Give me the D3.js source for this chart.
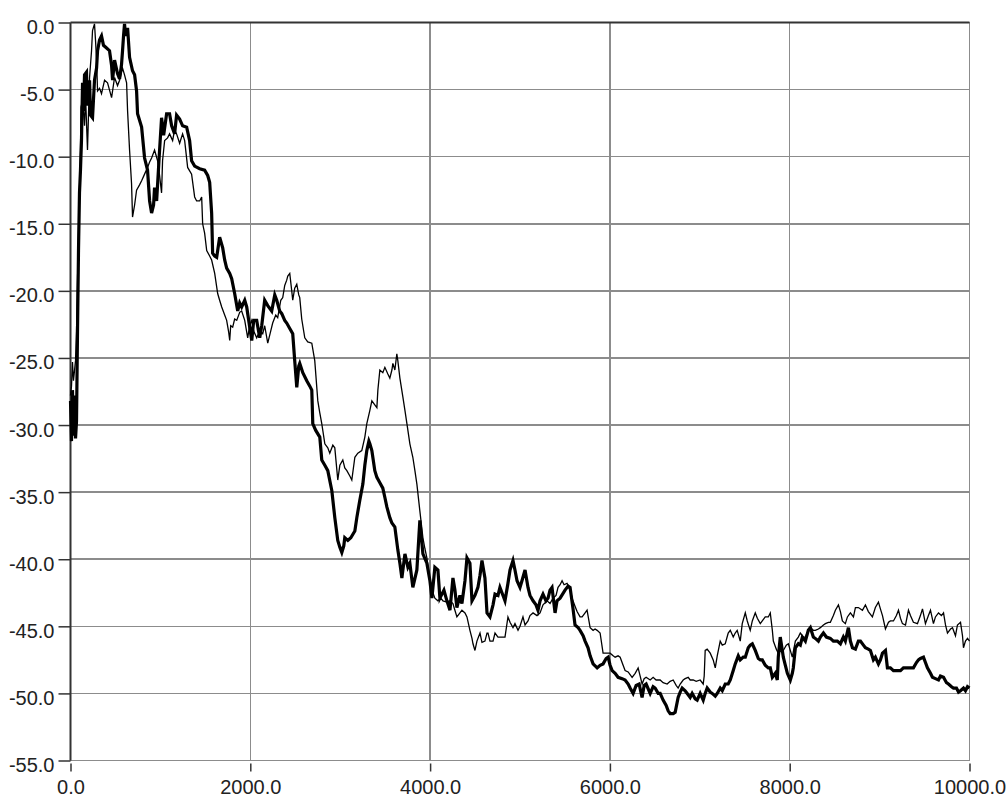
<!DOCTYPE html>
<html>
<head>
<meta charset="utf-8">
<script src="https://cdn.jsdelivr.net/npm/d3@7"></script>
<style>
  html, body { margin: 0; padding: 0; background: #ffffff; }
  svg { display: block; }
  .tick-label { font-family: "Liberation Sans", Arial, sans-serif; font-size: 20px; fill: #222; }
</style>
</head>
<body>
<svg id="chart" width="1007" height="797"></svg>
<script>
// Axis ticks
const xTicks = [0, 2000, 4000, 6000, 8000, 10000];
const yTicks = [0, -5, -10, -15, -20, -25, -30, -35, -40, -45, -50, -55];

// Heavy trace
const boldX = [0,11,22,33,45,56,67,78,89,100,111,122,134,145,156,178,189,212,223,245,267,290,301,323,345,367,401,434,457,468,490,523,546,568,579,590,601,612,635,657,690,713,735,746,791,824,857,880,902,924,935,958,991,1013,1036,1069,1102,1125,1158,1180,1214,1247,1292,1325,1347,1381,1437,1492,1526,1548,1570,1581,1604,1626,1659,1693,1715,1737,1771,1793,1826,1860,1882,1904,1938,1960,1993,2016,2038,2071,2105,2127,2160,2194,2238,2272,2294,2327,2350,2383,2405,2439,2472,2494,2517,2539,2550,2584,2628,2662,2684,2695,2728,2773,2795,2829,2862,2907,2940,2973,2996,3018,3040,3051,3085,3118,3163,3185,3218,3252,3274,3296,3319,3330,3352,3363,3385,3408,3441,3474,3497,3519,3552,3575,3608,3641,3664,3686,3720,3753,3775,3808,3853,3886,3920,3964,3998,4020,4053,4087,4109,4154,4187,4221,4254,4276,4298,4332,4354,4388,4410,4443,4466,4499,4532,4555,4577,4610,4633,4666,4700,4722,4755,4777,4811,4833,4866,4889,4922,4944,4967,5000,5022,5056,5089,5111,5145,5178,5200,5223,5256,5289,5312,5334,5356,5390,5412,5446,5501,5535,5557,5590,5612,5646,5668,5702,5724,5757,5780,5813,5858,5891,5924,5958,5980,6002,6025,6058,6091,6136,6169,6203,6225,6258,6292,6325,6358,6381,6403,6448,6481,6503,6537,6559,6592,6626,6648,6670,6704,6726,6759,6782,6804,6837,6860,6893,6915,6949,6971,7004,7038,7060,7082,7116,7138,7172,7194,7227,7250,7283,7316,7339,7372,7394,7428,7450,7483,7506,7539,7561,7584,7617,7651,7673,7695,7728,7762,7784,7807,7840,7862,7873,7895,7918,7929,7951,7974,8007,8029,8040,8063,8096,8118,8141,8174,8207,8230,8263,8285,8319,8341,8375,8408,8452,8486,8530,8564,8597,8619,8653,8675,8698,8731,8764,8787,8820,8842,8875,8898,8931,8953,8987,9009,9032,9065,9087,9120,9154,9199,9232,9265,9310,9343,9376,9410,9432,9454,9488,9510,9532,9566,9588,9621,9655,9677,9711,9744,9766,9800,9822,9855,9878,9900,9933,9955,9978,10000];
const boldY = [-28.2,-31.2,-27.4,-30.8,-27.8,-31.0,-29.7,-23.0,-17.0,-12.7,-11.0,-8.8,-4.5,-6.6,-3.9,-3.7,-6.2,-4.3,-6.9,-7.1,-4.3,-3.4,-2.1,-1.3,-1.0,-1.7,-1.9,-2.1,-3.2,-4.3,-2.8,-3.8,-4.2,-3.1,-2.1,-1.0,-0.1,-1.0,-0.4,-2.6,-3.6,-3.9,-5.1,-6.8,-7.8,-10.1,-11.0,-13.3,-14.2,-13.6,-12.3,-13.3,-9.5,-7.1,-8.4,-6.8,-6.8,-7.7,-8.3,-6.9,-7.2,-7.7,-7.8,-8.8,-10.3,-10.7,-10.9,-11.0,-11.4,-11.9,-14.2,-17.2,-17.4,-17.5,-16.0,-16.8,-17.7,-18.3,-18.7,-19.1,-20.2,-21.5,-20.9,-21.2,-20.7,-21.2,-22.7,-23.7,-22.2,-22.2,-23.5,-22.6,-20.7,-21.1,-21.5,-20.3,-20.7,-21.5,-21.7,-22.2,-22.4,-22.8,-23.2,-25.2,-27.2,-25.6,-25.4,-26.1,-26.7,-27.1,-27.4,-29.9,-30.4,-30.9,-32.6,-33.0,-33.4,-34.9,-36.9,-38.6,-39.1,-39.5,-39.0,-38.4,-38.6,-38.4,-37.9,-36.9,-35.6,-34.4,-33.0,-31.9,-31.2,-31.4,-31.9,-32.4,-33.4,-33.9,-34.3,-34.7,-35.4,-36.1,-36.9,-37.3,-37.6,-39.3,-40.3,-41.4,-39.6,-40.6,-40.3,-42.1,-40.8,-37.1,-39.6,-40.3,-41.6,-42.9,-40.6,-40.8,-42.9,-42.3,-43.1,-43.8,-41.4,-42.3,-43.6,-42.7,-43.3,-41.6,-39.9,-40.3,-43.1,-42.7,-42.1,-41.2,-40.1,-41.4,-44.0,-44.3,-43.4,-42.6,-42.7,-42.1,-42.7,-43.1,-41.8,-40.8,-40.1,-40.8,-41.6,-42.1,-41.6,-40.8,-42.1,-42.7,-43.1,-43.4,-43.8,-43.1,-42.6,-43.1,-42.9,-42.3,-42.1,-44.0,-43.1,-42.9,-42.3,-42.0,-42.1,-43.7,-44.9,-45.1,-45.3,-45.7,-46.1,-46.6,-47.2,-47.8,-48.1,-47.9,-47.8,-47.4,-47.3,-47.9,-48.3,-48.5,-48.8,-48.9,-49.0,-49.3,-49.6,-50.0,-49.4,-49.3,-50.3,-49.4,-49.3,-50.0,-49.5,-49.6,-50.0,-50.0,-50.5,-50.9,-51.3,-51.5,-51.5,-51.4,-50.3,-49.9,-49.6,-49.8,-50.0,-50.3,-50.0,-50.4,-50.5,-50.0,-50.5,-50.0,-49.6,-49.9,-50.0,-50.2,-50.0,-49.6,-49.8,-49.3,-49.3,-49.0,-48.3,-47.8,-47.2,-47.5,-47.3,-47.3,-46.6,-46.4,-46.3,-46.8,-47.4,-47.5,-47.5,-47.9,-48.1,-48.1,-48.8,-48.5,-49.0,-47.3,-45.8,-46.8,-47.3,-47.9,-48.5,-49.0,-48.5,-48.1,-46.6,-46.3,-46.4,-45.8,-46.1,-45.3,-45.1,-45.8,-45.9,-46.1,-45.8,-45.5,-45.8,-45.9,-46.1,-46.1,-46.3,-45.8,-46.1,-45.1,-46.1,-46.6,-46.7,-46.1,-46.1,-46.4,-46.6,-46.7,-46.8,-47.5,-47.3,-47.8,-47.5,-47.0,-46.8,-48.1,-48.1,-48.3,-48.3,-48.3,-48.1,-48.1,-48.1,-48.1,-47.7,-47.5,-47.4,-47.3,-47.7,-48.1,-48.5,-48.8,-48.9,-49.0,-48.7,-48.8,-49.2,-49.3,-49.5,-49.6,-49.6,-49.9,-49.8,-49.6,-49.8,-49.5,-49.6];

// Light trace
const fineX = [0,11,22,33,56,67,78,89,100,111,117,134,156,167,189,212,234,245,267,278,290,301,323,345,379,412,457,490,523,546,579,601,624,635,657,679,690,713,735,768,791,824,857,880,902,935,969,991,1013,1024,1047,1080,1102,1136,1158,1180,1214,1247,1270,1303,1347,1381,1403,1437,1459,1470,1492,1515,1548,1570,1604,1637,1659,1682,1715,1737,1760,1771,1782,1804,1826,1849,1882,1904,1938,1971,1993,2016,2038,2071,2105,2138,2160,2194,2227,2249,2283,2305,2339,2361,2383,2405,2417,2439,2461,2472,2494,2517,2539,2550,2572,2606,2639,2684,2717,2751,2773,2795,2829,2862,2884,2918,2940,2973,2996,3029,3051,3074,3107,3129,3163,3196,3240,3274,3296,3330,3352,3385,3408,3419,3441,3474,3497,3530,3552,3575,3586,3608,3630,3641,3664,3697,3720,3742,3775,3808,3831,3853,3886,3920,3942,3964,3998,4020,4053,4087,4120,4143,4187,4221,4254,4276,4298,4332,4354,4388,4410,4443,4466,4477,4499,4521,4555,4577,4610,4633,4644,4666,4700,4722,4755,4800,4833,4866,4889,4922,4944,4978,5000,5033,5056,5089,5111,5145,5189,5223,5256,5301,5334,5367,5401,5423,5446,5468,5490,5523,5557,5579,5612,5635,5668,5691,5724,5746,5780,5813,5835,5858,5891,5924,5969,6002,6036,6058,6091,6114,6147,6169,6203,6247,6281,6314,6336,6358,6381,6403,6448,6481,6514,6559,6592,6637,6670,6704,6737,6759,6782,6815,6837,6871,6893,6927,6960,7004,7038,7049,7060,7082,7116,7149,7172,7194,7227,7250,7283,7316,7339,7372,7394,7416,7450,7472,7506,7528,7561,7584,7617,7640,7673,7695,7728,7762,7784,7807,7818,7851,7873,7906,7929,7962,7985,8007,8029,8063,8096,8118,8152,8174,8207,8230,8263,8285,8319,8341,8375,8397,8430,8452,8486,8508,8542,8564,8586,8619,8642,8675,8709,8731,8764,8809,8842,8875,8920,8953,8987,9009,9032,9065,9099,9120,9154,9187,9210,9232,9254,9288,9321,9343,9376,9421,9454,9477,9510,9543,9566,9599,9621,9655,9688,9711,9733,9755,9789,9811,9844,9866,9900,9922,9933,9955,9978,10000];
const fineY = [-27.8,-27.1,-25.3,-26.7,-25.2,-23.0,-19.2,-15.5,-12.5,-9.5,-6.3,-5.8,-7.7,-5.4,-9.5,-4.1,-2.1,-0.6,-0.1,-1.3,-2.8,-5.1,-4.9,-5.3,-4.3,-4.5,-5.6,-4.1,-4.7,-4.3,-3.4,-3.9,-4.5,-6.6,-9.5,-12.0,-14.5,-13.6,-12.5,-12.1,-11.8,-11.3,-10.8,-10.4,-10.1,-9.5,-10.3,-11.4,-12.7,-10.3,-8.8,-8.6,-8.3,-8.8,-8.0,-8.3,-9.0,-8.3,-8.8,-10.8,-11.3,-13.0,-13.3,-13.3,-13.0,-15.0,-15.7,-17.0,-17.4,-17.7,-18.7,-20.2,-20.7,-21.2,-21.8,-22.2,-23.1,-23.7,-22.6,-22.7,-22.1,-22.2,-21.6,-21.5,-22.2,-23.5,-22.6,-22.2,-23.0,-23.5,-23.0,-23.2,-22.6,-23.9,-23.0,-22.4,-21.8,-22.0,-20.7,-20.5,-19.6,-19.2,-18.9,-18.7,-20.0,-20.7,-19.8,-19.5,-20.3,-20.5,-22.1,-23.5,-23.8,-23.9,-25.2,-28.2,-29.1,-29.9,-31.4,-31.7,-32.1,-31.5,-31.7,-34.1,-33.0,-32.6,-33.2,-33.4,-33.8,-34.1,-32.4,-32.1,-31.9,-30.9,-29.9,-28.9,-28.2,-28.5,-28.7,-27.4,-25.9,-26.1,-25.7,-26.2,-26.5,-25.9,-25.4,-25.9,-24.7,-25.2,-26.5,-27.9,-28.9,-29.9,-31.4,-32.4,-33.4,-34.4,-36.4,-38.4,-39.2,-39.9,-41.6,-42.3,-42.9,-43.1,-42.9,-43.1,-43.2,-43.1,-43.3,-43.8,-44.3,-44.0,-43.8,-44.0,-44.3,-45.3,-45.9,-46.3,-46.8,-46.1,-45.5,-46.2,-46.1,-45.5,-45.5,-46.1,-46.1,-45.5,-45.8,-45.8,-45.8,-44.3,-44.7,-45.1,-44.8,-45.3,-45.0,-44.3,-44.9,-44.6,-44.2,-44.0,-44.2,-44.0,-43.4,-43.1,-43.3,-42.9,-42.7,-42.1,-41.9,-41.6,-41.9,-41.8,-42.2,-42.9,-43.5,-43.9,-44.3,-44.3,-44.0,-43.8,-45.1,-45.3,-45.2,-45.3,-45.5,-47.0,-47.0,-47.0,-47.2,-47.3,-47.2,-47.3,-47.9,-48.3,-48.4,-48.8,-48.5,-48.1,-48.7,-49.3,-48.9,-48.8,-49.0,-48.8,-49.0,-49.0,-49.2,-49.3,-49.1,-49.0,-49.4,-49.6,-49.3,-49.0,-48.9,-48.8,-49.0,-49.0,-49.1,-49.0,-49.3,-48.7,-46.8,-46.7,-47.0,-47.5,-48.1,-47.2,-46.1,-46.4,-46.3,-45.5,-45.3,-45.8,-45.5,-45.3,-46.1,-44.8,-44.0,-44.6,-45.3,-44.6,-44.0,-44.4,-44.8,-44.6,-44.3,-44.3,-44.0,-45.3,-46.1,-46.7,-47.0,-46.8,-46.8,-46.4,-46.3,-46.8,-47.3,-46.1,-45.8,-45.5,-45.8,-45.8,-45.3,-45.1,-45.3,-45.3,-45.2,-45.1,-44.9,-44.8,-44.7,-44.7,-44.2,-43.8,-43.4,-43.9,-44.6,-44.8,-44.3,-44.0,-44.3,-43.6,-43.6,-43.8,-43.4,-43.9,-44.3,-43.6,-43.2,-43.7,-44.2,-45.2,-44.7,-44.6,-44.6,-44.2,-43.8,-44.4,-44.8,-44.9,-43.8,-44.2,-44.7,-44.8,-44.2,-43.7,-44.8,-44.2,-43.8,-44.8,-44.3,-44.0,-44.2,-44.0,-44.9,-45.5,-45.2,-45.1,-45.7,-44.9,-44.7,-45.7,-46.6,-46.1,-45.9,-46.1];

const svg = d3.select("#chart");
const plotLeft = 70.5, plotRight = 969.5, plotTop = 22.5, plotBottom = 760.5;

const x = d3.scaleLinear().domain([0, 10000]).range([plotLeft, plotRight]);
const y = d3.scaleLinear().domain([0, -55]).range([plotTop, plotBottom]);

// Tick labels with a plain hyphen for negatives and one decimal
const fmt = d => d.toFixed(1);

// Grid
const grid = svg.append("g").attr("shape-rendering", "crispEdges");
grid.selectAll("line.h").data(yTicks).join("line")
  .attr("x1", plotLeft).attr("x2", plotRight)
  .attr("y1", d => y(d)).attr("y2", d => y(d))
  .attr("stroke", "#8c8c8c").attr("stroke-width", 1.5);
grid.selectAll("line.v").data(xTicks).join("line")
  .attr("x1", d => x(d)).attr("x2", d => x(d))
  .attr("y1", plotTop).attr("y2", plotBottom)
  .attr("stroke", "#8c8c8c").attr("stroke-width", 1.5);

// Y axis (left)
const yAxis = d3.axisLeft(y).tickValues(yTicks).tickSize(12).tickPadding(4).tickFormat(fmt);
const gy = svg.append("g").attr("transform", `translate(${plotLeft},0)`).call(yAxis);
gy.select(".domain").remove();
gy.selectAll(".tick line").attr("stroke", "#333").attr("stroke-width", 1.5);
gy.selectAll(".tick text").attr("class", "tick-label").attr("dy", "0.55em").attr("x", -16);
gy.attr("font-size", null).attr("font-family", null);

// X axis (bottom)
const xAxis = d3.axisBottom(x).tickValues(xTicks).tickSize(8).tickPadding(4).tickFormat(fmt);
const gx = svg.append("g").attr("transform", `translate(0,${plotBottom + 3})`).call(xAxis);
gx.select(".domain").remove();
gx.selectAll(".tick line").attr("stroke", "#333").attr("stroke-width", 1.5);
gx.selectAll(".tick text").attr("class", "tick-label").attr("dy", "0.9em");
gx.attr("font-size", null).attr("font-family", null);

// Frame: dark left and top edges
svg.append("line").attr("x1", plotLeft).attr("x2", plotLeft).attr("y1", plotTop).attr("y2", plotBottom)
  .attr("stroke", "#333").attr("stroke-width", 2);
svg.append("line").attr("x1", plotLeft).attr("x2", plotRight).attr("y1", plotTop).attr("y2", plotTop)
  .attr("stroke", "#333").attr("stroke-width", 2);

// Traces
const plot = svg.append("g");
const line = d3.line().x(d => x(d[0])).y(d => y(d[1]));
const fine = d3.zip(fineX, fineY);
const bold = d3.zip(boldX, boldY);

plot.append("path").datum(fine).attr("d", line)
  .attr("fill", "none").attr("stroke", "#000").attr("stroke-width", 1.3)
  .attr("stroke-linejoin", "miter");
plot.append("path").datum(bold).attr("d", line)
  .attr("fill", "none").attr("stroke", "#000").attr("stroke-width", 3.2)
  .attr("stroke-linejoin", "miter");
</script>
</body>
</html>
